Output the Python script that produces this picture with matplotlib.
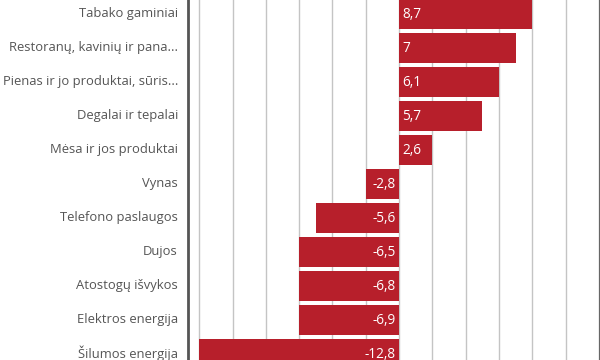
import matplotlib.pyplot as plt

categories = ["Tabako gaminiai", "Restoranų, kavinių ir pana...",
              "Pienas ir jo produktai, sūris...", "Degalai ir tepalai",
              "Mėsa ir jos produktai", "Vynas", "Telefono paslaugos", "Dujos",
              "Atostogų išvykos", "Elektros energija", "Šilumos energija"]
labels = ["8,7", "7", "6,1", "5,7", "2,6", "-2,8", "-5,6", "-6,5", "-6,8", "-6,9", "-12,8"]
# bar lengths as drawn in the picture (whole units)
bar_lengths = [8, 7, 6, 5, 2, -2, -5, -6, -6, -6, -12]
grid_ticks = list(range(-12, 13, 2))

plt.rcParams['font.family'] = ['Open Sans', 'DejaVu Sans']

fig = plt.figure(figsize=(6, 3.6), dpi=100)
W, H = 600, 360
ax = fig.add_axes([188 / W, 0, (600 - 188) / W, 1])

px_unit = 33.3 / 2
zero_px = 399
ax.set_xlim(-(zero_px - 188) / px_unit, (600 - zero_px) / px_unit)
ax.set_ylim((H - 14) / 34, -14 / 34)

y = list(range(len(categories)))
ax.barh(y, bar_lengths, height=30 / 34, color='#B71F2B', zorder=2)

for i, (v, lab) in enumerate(zip(bar_lengths, labels)):
    if v >= 0:
        ax.text(0.2, i, lab, color='white', fontsize=9.8, ha='left', va='center', zorder=3)
    else:
        ax.text(-0.2, i, lab, color='white', fontsize=9.8, ha='right', va='center', zorder=3)
    ax.text(-(zero_px - 178) / px_unit, i - 0.02, categories[i], color='#555555', fontsize=9.4,
            ha='right', va='center', clip_on=False)

for t in grid_ticks:
    ax.axvline(t, color='#c4c4c4', lw=1, zorder=1)

ax.set_xticks([])
ax.set_yticks([])
for s in ['top', 'bottom']:
    ax.spines[s].set_visible(False)
ax.spines['left'].set_color('#555555')
ax.spines['left'].set_linewidth(2)
ax.spines['right'].set_color('#666666')
ax.spines['right'].set_linewidth(1.5)

fig.savefig('out.png', dpi=100)
